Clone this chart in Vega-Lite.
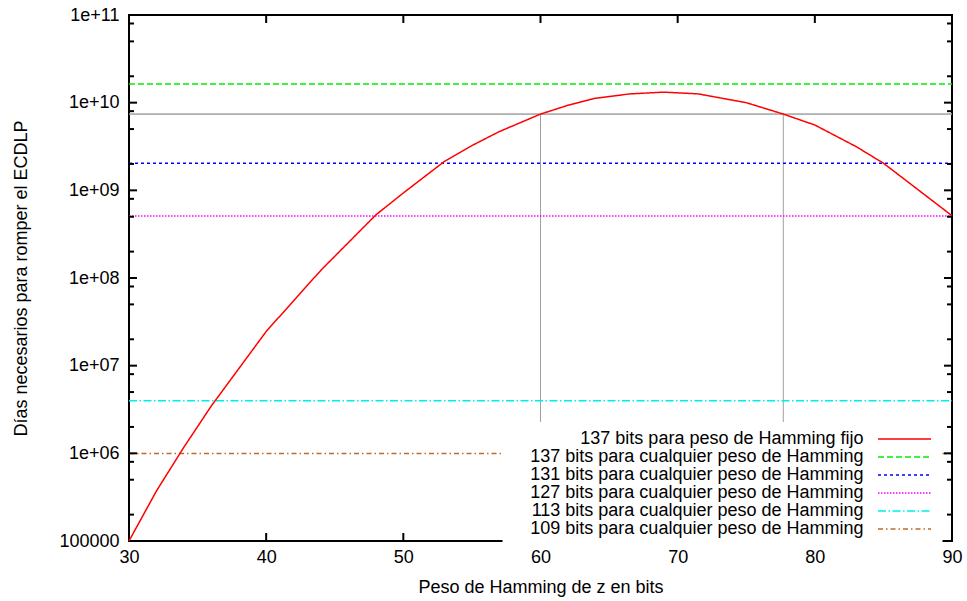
{
  "$schema": "https://vega.github.io/schema/vega-lite/v6.json",
  "width": 823,
  "height": 526,
  "autosize": {"type": "none"},
  "padding": {"left": 129, "top": 15, "right": 15, "bottom": 60},
  "background": "white",
  "config": {
    "view": {"stroke": "black", "strokeWidth": 2},
    "font": "Liberation Sans",
    "axis": {"labelColor": "black", "titleColor": "black", "labelFont": "Liberation Sans", "titleFont": "Liberation Sans", "grid": false}
  },
  "datasets": {
    "curve": [
      {"x": 30, "y": 100000, "serie": "137 bits para peso de Hamming fijo"},
      {"x": 32, "y": 372000, "serie": "137 bits para peso de Hamming fijo"},
      {"x": 34, "y": 1175000, "serie": "137 bits para peso de Hamming fijo"},
      {"x": 36, "y": 3470000, "serie": "137 bits para peso de Hamming fijo"},
      {"x": 40, "y": 24550000, "serie": "137 bits para peso de Hamming fijo"},
      {"x": 44, "y": 123000000, "serie": "137 bits para peso de Hamming fijo"},
      {"x": 48, "y": 525000000, "serie": "137 bits para peso de Hamming fijo"},
      {"x": 50, "y": 933000000, "serie": "137 bits para peso de Hamming fijo"},
      {"x": 53, "y": 2140000000, "serie": "137 bits para peso de Hamming fijo"},
      {"x": 55, "y": 3240000000, "serie": "137 bits para peso de Hamming fijo"},
      {"x": 57, "y": 4680000000, "serie": "137 bits para peso de Hamming fijo"},
      {"x": 60, "y": 7410000000, "serie": "137 bits para peso de Hamming fijo"},
      {"x": 62, "y": 9330000000, "serie": "137 bits para peso de Hamming fijo"},
      {"x": 64, "y": 11220000000, "serie": "137 bits para peso de Hamming fijo"},
      {"x": 66.5, "y": 12590000000, "serie": "137 bits para peso de Hamming fijo"},
      {"x": 69, "y": 13180000000, "serie": "137 bits para peso de Hamming fijo"},
      {"x": 71.5, "y": 12590000000, "serie": "137 bits para peso de Hamming fijo"},
      {"x": 75, "y": 10000000000, "serie": "137 bits para peso de Hamming fijo"},
      {"x": 77.7, "y": 7410000000, "serie": "137 bits para peso de Hamming fijo"},
      {"x": 80, "y": 5560000000, "serie": "137 bits para peso de Hamming fijo"},
      {"x": 83, "y": 3160000000, "serie": "137 bits para peso de Hamming fijo"},
      {"x": 85, "y": 2040000000, "serie": "137 bits para peso de Hamming fijo"},
      {"x": 87, "y": 1175000000, "serie": "137 bits para peso de Hamming fijo"},
      {"x": 90, "y": 513000000, "serie": "137 bits para peso de Hamming fijo"}
    ],
    "levels": [
      {"serie": "137 bits para cualquier peso de Hamming", "value": 16320000000},
      {"serie": "131 bits para cualquier peso de Hamming", "value": 2040000000},
      {"serie": "127 bits para cualquier peso de Hamming", "value": 510000000},
      {"serie": "113 bits para cualquier peso de Hamming", "value": 3980000},
      {"serie": "109 bits para cualquier peso de Hamming", "value": 996000}
    ],
    "gray": [
      {"pos": 60},
      {"pos": 77.7}
    ],
    "xmajor": [{"v": 40}, {"v": 50}, {"v": 60}, {"v": 70}, {"v": 80}],
    "ymajor": [{"v": 1000000}, {"v": 10000000}, {"v": 100000000}, {"v": 1000000000}, {"v": 10000000000}],
    "yminor": [
      {"v": 200000}, {"v": 500000}, {"v": 800000},
      {"v": 2000000}, {"v": 5000000}, {"v": 8000000},
      {"v": 20000000}, {"v": 50000000}, {"v": 80000000},
      {"v": 200000000}, {"v": 500000000}, {"v": 800000000},
      {"v": 2000000000}, {"v": 5000000000}, {"v": 8000000000},
      {"v": 20000000000}, {"v": 50000000000}, {"v": 80000000000}
    ]
  },
  "layer": [
    {
      "data": {"name": "gray"},
      "mark": {"type": "rule", "color": "#a0a0a0", "strokeWidth": 1},
      "encoding": {
        "x": {
          "field": "pos", "type": "quantitative",
          "scale": {"domain": [30, 90], "nice": false, "zero": false},
          "axis": {"orient": "bottom", "values": [30, 40, 50, 60, 70, 80, 90], "ticks": false, "domain": false, "grid": false, "labelFontSize": 18, "labelPadding": 7, "labelFlush": false, "labelOverlap": false, "title": "Peso de Hamming de z en bits", "titleFontSize": 18, "titleFontWeight": "normal", "titlePadding": 12}
        },
        "y": {
          "datum": 7410000000, "type": "quantitative",
          "scale": {"type": "log", "domain": [100000, 100000000000], "nice": false},
          "axis": {"orient": "left", "values": [100000, 1000000, 10000000, 100000000, 1000000000, 10000000000, 100000000000], "labelExpr": "datum.value < 200000 ? '100000' : '1e+' + (round(log(datum.value)/LN10) < 10 ? '0' : '') + round(log(datum.value)/LN10)", "ticks": false, "domain": false, "grid": false, "labelFontSize": 18, "labelPadding": 10, "labelOverlap": false, "title": "Días necesarios para romper el ECDLP", "titleFontSize": 18, "titleFontWeight": "normal", "titlePadding": 28}
        },
        "y2": {"datum": 100000}
      }
    },
    {
      "data": {"name": "gray"},
      "mark": {"type": "rule", "color": "#a0a0a0", "strokeWidth": 1},
      "encoding": {
        "x": {"datum": 30, "type": "quantitative"},
        "x2": {"datum": 90},
        "y": {"datum": 7410000000, "type": "quantitative"}
      }
    },
    {
      "data": {"name": "levels"},
      "mark": {"type": "rule", "strokeWidth": 1.5},
      "encoding": {
        "x": {"datum": 30, "type": "quantitative"},
        "x2": {"datum": 90},
        "y": {"field": "value", "type": "quantitative"},
        "color": {
          "field": "serie", "type": "nominal", "title": null,
          "scale": {
            "domain": ["137 bits para peso de Hamming fijo", "137 bits para cualquier peso de Hamming", "131 bits para cualquier peso de Hamming", "127 bits para cualquier peso de Hamming", "113 bits para cualquier peso de Hamming", "109 bits para cualquier peso de Hamming"],
            "range": ["#ff0000", "#00ee00", "#0000ff", "#ff00ff", "#00eeee", "#c0692a"]
          },
          "legend": {"orient": "none", "legendX": 373.5, "legendY": 407, "labelFontSize": 18, "labelFont": "Liberation Sans", "labelColor": "black", "labelAlign": "right", "labelLimit": 0, "labelOffset": -50, "symbolOffset": 385, "symbolType": "M-5.3,0H5.3", "symbolSize": 100, "symbolStrokeWidth": 1.5, "fillColor": "white", "padding": 8, "rowPadding": -2.6}
        },
        "strokeDash": {
          "field": "serie", "type": "nominal", "title": null,
          "scale": {
            "domain": ["137 bits para peso de Hamming fijo", "137 bits para cualquier peso de Hamming", "131 bits para cualquier peso de Hamming", "127 bits para cualquier peso de Hamming", "113 bits para cualquier peso de Hamming", "109 bits para cualquier peso de Hamming"],
            "range": [[1, 0], [6, 3], [3, 3], [1.5, 1.5], [8, 2.5, 1.5, 2.5], [5, 3, 1.5, 3]]
          },
          "legend": {"orient": "none", "legendX": 373.5, "legendY": 407, "labelFontSize": 18, "labelFont": "Liberation Sans", "labelColor": "black", "labelAlign": "right", "labelLimit": 0, "labelOffset": -50, "symbolOffset": 385, "symbolType": "M-5.3,0H5.3", "symbolSize": 100, "symbolStrokeWidth": 1.5, "fillColor": "white", "padding": 8, "rowPadding": -2.6}
        }
      }
    },
    {
      "data": {"name": "curve"},
      "mark": {"type": "line", "strokeWidth": 1.5},
      "encoding": {
        "x": {"field": "x", "type": "quantitative"},
        "y": {"field": "y", "type": "quantitative"},
        "color": {"field": "serie", "type": "nominal", "title": null},
        "strokeDash": {"field": "serie", "type": "nominal", "title": null}
      }
    },
    {
      "data": {"name": "xmajor"},
      "mark": {"type": "tick", "orient": "vertical", "color": "black", "opacity": 1, "thickness": 2, "size": 8, "yOffset": -4},
      "encoding": {
        "x": {"field": "v", "type": "quantitative"},
        "y": {"datum": 100000, "type": "quantitative"}
      }
    },
    {
      "data": {"name": "xmajor"},
      "mark": {"type": "tick", "orient": "vertical", "color": "black", "opacity": 1, "thickness": 2, "size": 8, "yOffset": 4},
      "encoding": {
        "x": {"field": "v", "type": "quantitative"},
        "y": {"datum": 100000000000, "type": "quantitative"}
      }
    },
    {
      "data": {"name": "ymajor"},
      "mark": {"type": "tick", "orient": "horizontal", "color": "black", "opacity": 1, "thickness": 2, "size": 8, "xOffset": 4},
      "encoding": {
        "x": {"datum": 30, "type": "quantitative"},
        "y": {"field": "v", "type": "quantitative"}
      }
    },
    {
      "data": {"name": "ymajor"},
      "mark": {"type": "tick", "orient": "horizontal", "color": "black", "opacity": 1, "thickness": 2, "size": 8, "xOffset": -4},
      "encoding": {
        "x": {"datum": 90, "type": "quantitative"},
        "y": {"field": "v", "type": "quantitative"}
      }
    },
    {
      "data": {"name": "yminor"},
      "mark": {"type": "tick", "orient": "horizontal", "color": "black", "opacity": 1, "thickness": 2, "size": 5, "xOffset": 2.5},
      "encoding": {
        "x": {"datum": 30, "type": "quantitative"},
        "y": {"field": "v", "type": "quantitative"}
      }
    },
    {
      "data": {"name": "yminor"},
      "mark": {"type": "tick", "orient": "horizontal", "color": "black", "opacity": 1, "thickness": 2, "size": 5, "xOffset": -2.5},
      "encoding": {
        "x": {"datum": 90, "type": "quantitative"},
        "y": {"field": "v", "type": "quantitative"}
      }
    }
  ]
}
